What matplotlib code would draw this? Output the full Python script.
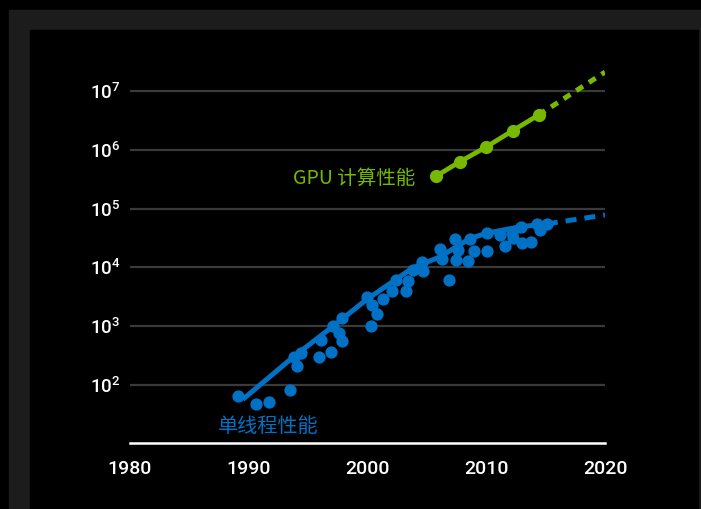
import math
import matplotlib
matplotlib.use("Agg")
import matplotlib.pyplot as plt
from matplotlib.patches import Rectangle
from matplotlib.ticker import FixedLocator, FuncFormatter, NullLocator

plt.rcParams['font.family'] = ['Roboto', 'DejaVu Sans']
plt.rcParams['font.weight'] = 'medium'
plt.rcParams['mathtext.fontset'] = 'custom'
plt.rcParams['mathtext.rm'] = 'Roboto:medium'

GREEN = '#76b900'
BLUE = '#0071c5'

# GPU performance (solid with markers, then projected)
gpu_years = [2005.8, 2007.8, 2010.0, 2012.25, 2014.4]
gpu_perf = [3.6e5, 6.3e5, 1.12e6, 2.13e6, 3.9e6]
gpu_proj_years = [2014.4, 2020.0]
gpu_proj_perf = [3.9e6, 2.1e7]

# single-thread performance trend
st_years = [1989.5, 1993.75, 1997.1, 1999.9, 2003.8, 2006.1, 2008.6, 2010.0, 2012.8, 2015.1]
st_perf = [57, 300, 1000, 2820, 9800, 15100, 30900, 38000, 49000, 55000]
st_proj_years = [2015.1, 2020.0]
st_proj_perf = [55000, 78000]

# single-thread measured processors
dot_years = [1989.12, 1990.61, 1991.73, 1993.47, 1993.81, 1994.04, 1994.37, 1995.94,
             1996.06, 1996.93, 1997.07, 1997.63, 1997.85, 1997.83, 1999.93, 2000.29,
             2000.35, 2000.83, 2001.33, 2002.09, 2002.40, 2003.24, 2003.44, 2003.86,
             2004.65, 2004.56, 2006.11, 2006.30, 2006.86, 2007.37, 2007.45, 2007.65,
             2008.44, 2008.63, 2008.97, 2010.09, 2010.09, 2011.16, 2011.58, 2012.14,
             2012.28, 2012.90, 2012.98, 2013.77, 2014.25, 2014.53, 2015.09]
dot_perf = [65, 48, 51, 82, 303, 210, 346, 303,
            582, 364, 1007, 774, 566, 1360, 3180, 1007,
            2300, 1610, 2860, 4020, 6110, 3970, 5870, 9040,
            8690, 12500, 20300, 13900, 6110, 30400, 13400, 19800,
            12900, 30400, 19000, 38900, 19200, 35600, 23100, 38000,
            31300, 48100, 25700, 27400, 54700, 43300, 54700]

x_ticks = [1980, 1990, 2000, 2010, 2020]
y_ticks = [1e2, 1e3, 1e4, 1e5, 1e6, 1e7]

W, H = 701, 509
fig = plt.figure(figsize=(W / 100, H / 100), dpi=100, facecolor='black')
# grey frame around the black panel
fig.add_artist(Rectangle((9 / W, 0), (W - 9) / W, (H - 10) / H,
                         transform=fig.transFigure, color='#1c1c1c', zorder=-10))
fig.add_artist(Rectangle((30 / W, 0), (698 - 30) / W, (H - 30) / H,
                         transform=fig.transFigure, color='black', zorder=-9))

ax = fig.add_axes([130 / W, 66 / H, 475 / W, 375.5 / H])
ax.set_zorder(1)
ax.set_facecolor('none')
ax.set_yscale('log')
ax.set_xlim(1980, 2020)
ax.set_ylim(10 ** 1.014, 10 ** 7.4)

for y in y_ticks:
    ax.axhline(y, color='#3a3a3a', lw=1.6, zorder=1)

ax.plot(st_years, st_perf, color=BLUE, lw=3.6, solid_capstyle='butt', zorder=3)
ax.plot(st_proj_years, st_proj_perf, color=BLUE, lw=3.6, ls=(0, (2.2, 1.6)), zorder=3)
ax.scatter(dot_years, dot_perf, s=78, color=BLUE, linewidths=0, zorder=4)

ax.plot(gpu_years, gpu_perf, color=GREEN, lw=3.4, marker='o', ms=8.5, zorder=3)
ax.plot(gpu_proj_years, gpu_proj_perf, color=GREEN, lw=3.6, ls=(0, (1.6, 1.4)), zorder=3)

ax.text(2004.0, 3.3e5, 'GPU 计算性能', color=GREEN, fontsize=14, ha='right', va='center',
        family=['Noto Sans CJK SC', 'DejaVu Sans'], fontweight='normal')
ax.text(1987.4, 20, '单线程性能', color=BLUE, fontsize=14.5, ha='left', va='center',
        family=['Noto Sans CJK SC', 'DejaVu Sans'], fontweight='normal')

for side in ['top', 'right', 'left']:
    ax.spines[side].set_visible(False)
ax.spines['bottom'].set_color('white')
ax.spines['bottom'].set_linewidth(1.8)

ax.xaxis.set_major_locator(FixedLocator(x_ticks))
ax.yaxis.set_major_locator(FixedLocator(y_ticks))
ax.yaxis.set_minor_locator(NullLocator())
ax.yaxis.set_major_formatter(FuncFormatter(lambda v, p: r'$\mathregular{10^{%d}}$' % round(math.log10(v))))
ax.tick_params(axis='x', length=0, pad=12, labelsize=14, labelcolor='white')
ax.tick_params(axis='y', length=0, pad=7, labelsize=13.5, labelcolor='white')

fig.savefig('out.png', dpi=100, facecolor=fig.get_facecolor())
